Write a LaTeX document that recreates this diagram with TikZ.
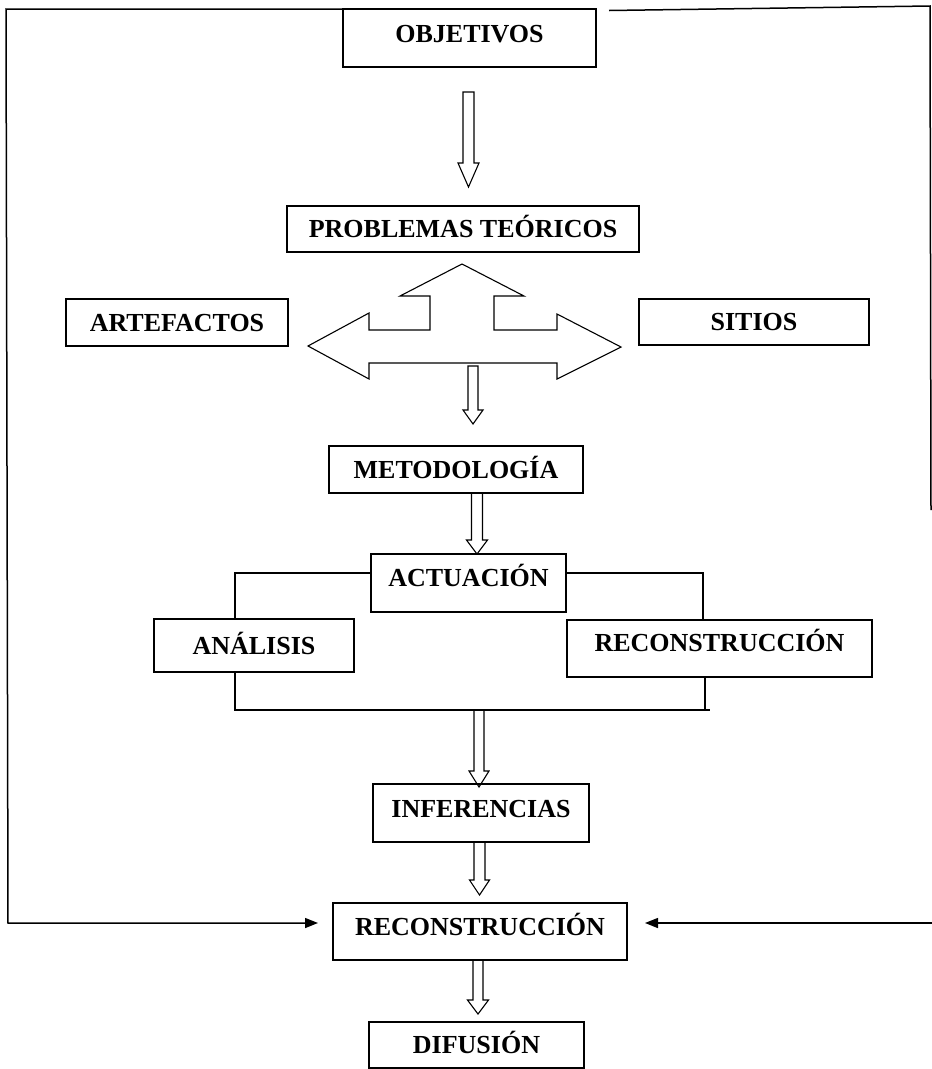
\documentclass[tikz,border=0pt]{standalone}
\usepackage{fontspec}
\setmainfont{Liberation Serif}
\usetikzlibrary{arrows.meta,calc}
\newcommand\blockdown[6]{% cx, top, base, tip, shaft half width, head half width
  \draw[blk] (#1-#5,#2) -- (#1+#5,#2) -- (#1+#5,#3) -- (#1+#6,#3) -- (#1,#4) -- (#1-#6,#3) -- (#1-#5,#3) -- cycle;}
\begin{document}
\begin{tikzpicture}[x=1pt,y=-1pt,
  box/.style={draw,line width=1.1pt,inner sep=0pt,outer sep=0pt,text height=17.2pt,text depth=0pt,
    font=\fontsize{26}{30}\selectfont\bfseries},
  frame/.style={line width=1.5pt},
  conn/.style={line width=1.1pt},
  blk/.style={line width=1.1pt,line join=miter},
  fb/.style={line width=1.5pt,-{Triangle[length=13pt,width=10pt]}}]
\useasboundingbox (0,0) rectangle (932,1069);

% boxes
\node[box,minimum width=253pt,minimum height=58pt,text depth=9pt] (obj) at (469.5,38) {OBJETIVOS};
\node[box,minimum width=352pt,minimum height=46pt] (prob) at (463,229) {PROBLEMAS TEÓRICOS};
\node[box,minimum width=222pt,minimum height=47pt] (art) at (177,322.5) {ARTEFACTOS};
\node[box,minimum width=230pt,minimum height=46pt] (sit) at (754,322) {SITIOS};
\node[box,minimum width=254pt,minimum height=47pt] (met) at (456,469.5) {METODOLOGÍA};
\node[box,minimum width=195pt,minimum height=58pt,text depth=11pt] (act) at (468.5,583) {ACTUACIÓN};
\node[box,minimum width=200pt,minimum height=53pt] (ana) at (254,645.5) {ANÁLISIS\hspace{26pt}};
\node[box,minimum width=305pt,minimum height=57pt,text depth=11pt] (rec1) at (719.5,648.5) {RECONSTRUCCIÓN};
\node[box,minimum width=216pt,minimum height=58pt,text depth=9pt] (inf) at (481,813) {INFERENCIAS};
\node[box,minimum width=294pt,minimum height=57pt,text depth=10pt] (rec2) at (480,931.5) {RECONSTRUCCIÓN};
\node[box,minimum width=215pt,minimum height=46pt] (dif) at (476.5,1045) {DIFUSIÓN};

% outer frame and feedback arrows
\draw[fb,shorten >=15pt] (obj.north west) -- (6,9) -- (8,923) -- (rec2.west |- 0,923);
\draw[frame] ([xshift=13pt,yshift=-1.5pt]obj.north east) -- (930,6) -- (931,510);
\draw[fb,shorten >=18pt] (932,923) -- (rec2.east |- 0,923);

% three-way block arrow
\draw[blk] (462,264) -- (524,296) -- (494,296) -- (494,330) -- (557,330) -- (557,314) -- (621,347)
  -- (557,379) -- (557,363) -- (369,363) -- (369,379) -- (308,346) -- (369,313) -- (369,330)
  -- (430,330) -- (430,296) -- (400,296) -- cycle;

% hollow down arrows
\blockdown{468.5}{92}{163}{187}{5.5}{10.5}
\blockdown{473}{366}{410}{424}{5}{10}
\blockdown{477}{493}{540}{554}{5.5}{10.5}
\blockdown{479}{710}{771}{787}{5}{10}
\blockdown{479.5}{842}{880}{895}{5.5}{10}
\blockdown{478}{960}{1000}{1014}{5}{10.5}

% actuación branches
\draw[conn] ([yshift=10pt]act.west) -| ([xshift=-19pt]ana.north);
\draw[conn] ([yshift=10pt]act.east) -| ([xshift=-16.5pt]rec1.north);
\coordinate (bend) at (710,710);
\coordinate (rb) at ([xshift=-14.5pt]rec1.south);
\draw[conn] ([xshift=-19pt]ana.south) |- (bend);
\draw[conn] (rb) -- (rb |- bend);
\end{tikzpicture}
\end{document}
